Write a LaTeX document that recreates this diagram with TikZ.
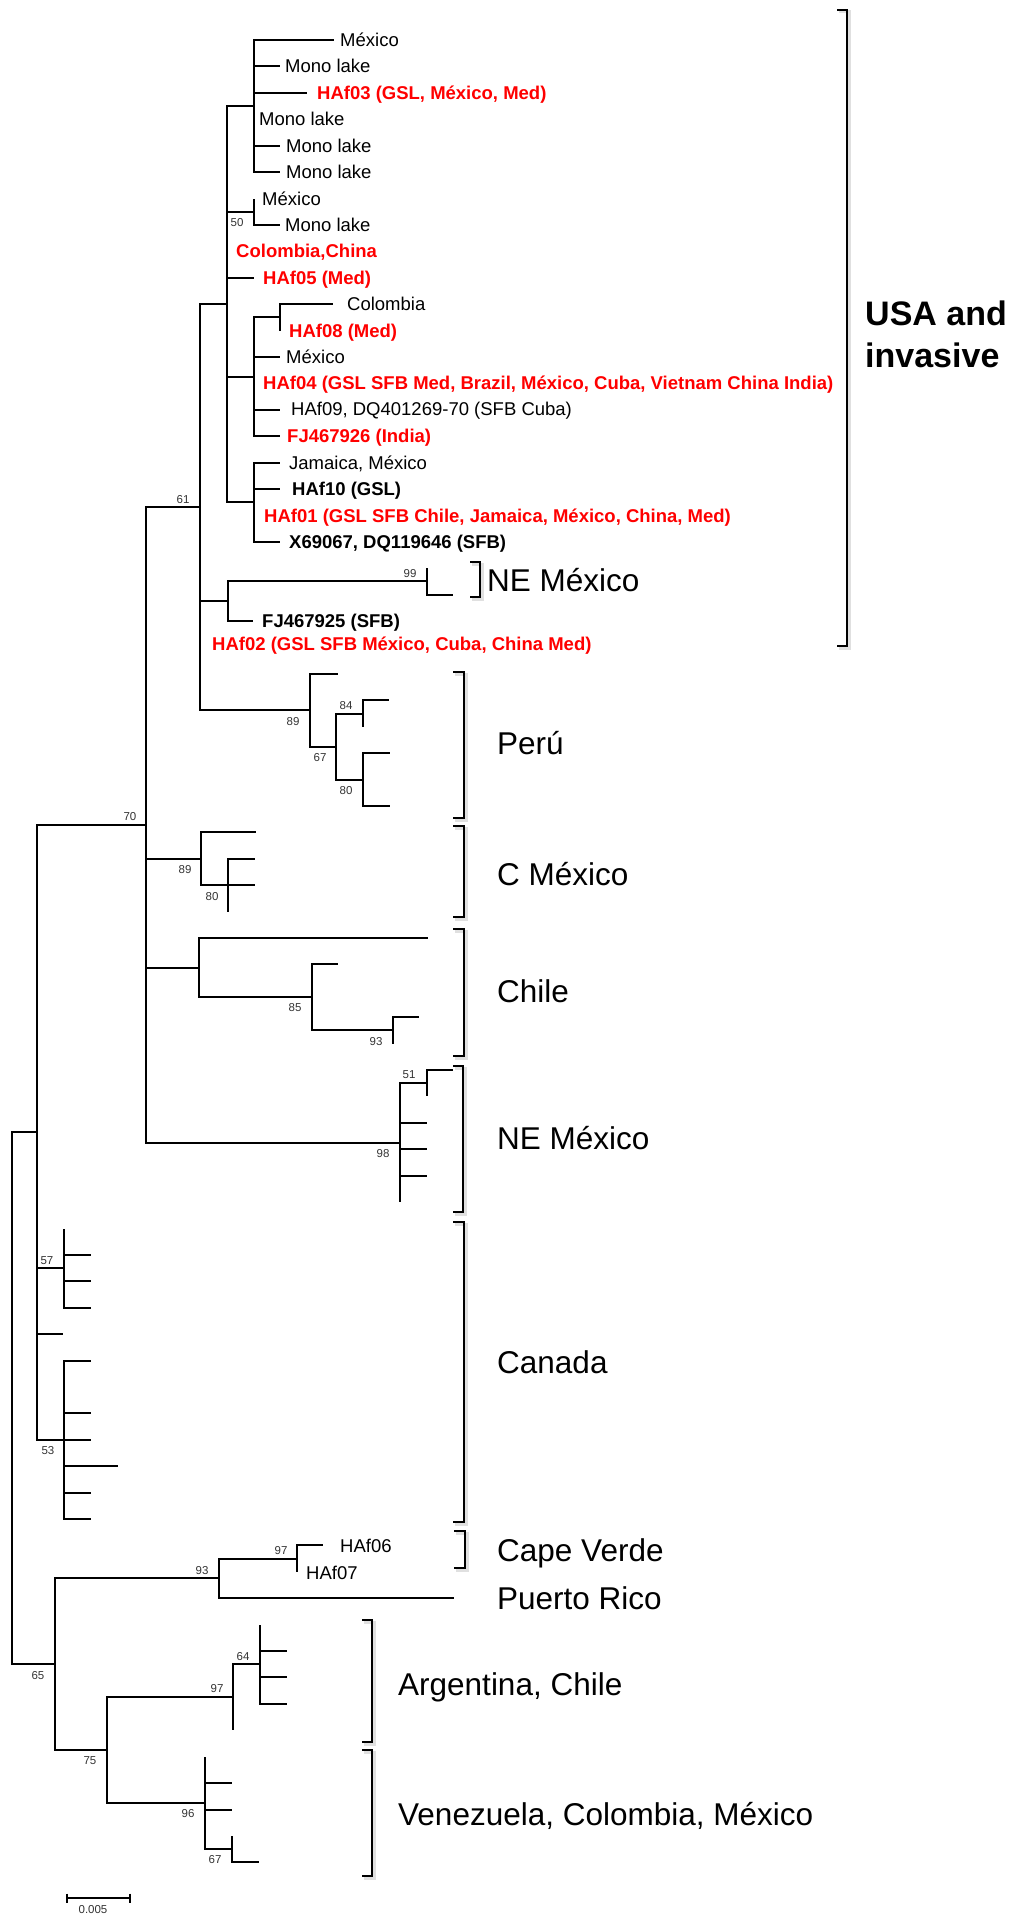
\documentclass[tikz,border=0pt]{standalone}
\usepackage{fontspec}
\setmainfont{Liberation Sans}
\definecolor{hapred}{rgb}{1,0,0}
\begin{document}
\begin{tikzpicture}[x=1pt, y=-1pt,
  branch/.style={line width=2pt},
  bracket/.style={line width=2pt},
  brshadow/.style={line width=3pt, black!12, xshift=2pt, yshift=-2pt},
  tip/.style={anchor=base west, inner sep=0pt, yshift=-6.6pt, font=\fontsize{18.5}{22}\selectfont},
  hap/.style={tip, text=hapred, font=\fontsize{18.5}{22}\selectfont\bfseries},
  seqref/.style={tip, font=\fontsize{18.5}{22}\selectfont\bfseries},
  grp/.style={anchor=base west, inner sep=0pt, yshift=-11.3pt, font=\fontsize{31.5}{38}\selectfont},
  usa/.style={anchor=base west, inner sep=0pt, font=\fontsize{34}{40}\selectfont\bfseries},
  boot/.style={inner sep=0pt, text=black!80, font=\fontsize{11.5}{13}\selectfont}]
\useasboundingbox (0,0) rectangle (1010,1916);
% Internal nodes of the tree (x = distance, y = row)
\coordinate (nA)   at (254,106.0);
\coordinate (n50)  at (254,211.7);
\coordinate (nD2)  at (280,317.3);
\coordinate (nD)   at (254,376.7);
\coordinate (nE)   at (254,502.2);
\coordinate (nB)   at (227,304.1);
\coordinate (n99)  at (427,581.4);
\coordinate (nG)   at (228,601.2);
\coordinate (nP3)  at (363,713.5);
\coordinate (nP4)  at (363,779.5);
\coordinate (nP2)  at (336,746.5);
\coordinate (nP1)  at (310,710.2);
\coordinate (nC)   at (200,507.2);
\coordinate (nCM2) at (228,885.1);
\coordinate (nCM1) at (201,858.7);
\coordinate (nCh3) at (393,1030.4);
\coordinate (nCh2) at (312,997.4);
\coordinate (nCh1) at (199,967.6);
\coordinate (nNE2) at (427,1083.2);
\coordinate (nNE1) at (400,1142.6);
\coordinate (nF)   at (146,824.9);
\coordinate (nCa1) at (64,1268.1);
\coordinate (nCa2) at (64,1439.7);
\coordinate (nR2)  at (37,1132.3);
\coordinate (nCV)  at (297,1558.6);
\coordinate (nPR)  at (219,1578.4);
\coordinate (nAr2) at (260,1664.2);
\coordinate (nAr1) at (233,1697.2);
\coordinate (nVe2) at (232,1849.1);
\coordinate (nVe1) at (205,1802.9);
\coordinate (nS)   at (107,1750.0);
\coordinate (nR3)  at (55,1664.2);
\coordinate (nR1)  at (12,1398.2);
% Root and deep splits
\draw[branch] (nR1) |- (nR2);
\draw[branch] (nR1) |- (nR3);
\draw[branch] (nR2) |- (nF);
\draw[branch] (nR2) |- (nCa1);
\draw[branch] (nR2) |- (63,1334.1);
\draw[branch] (nR2) |- (nCa2);
\draw[branch] (nF) |- (nC);
\draw[branch] (nF) |- (nCM1);
\draw[branch] (nF) |- (nCh1);
\draw[branch] (nF) |- (nNE1);
\draw[branch] (nC) |- (nB);
\draw[branch] (nC) |- (nG);
\draw[branch] (nC) |- (nP1);
% USA and invasive clade
\draw[branch] (nB) |- (nA);
\draw[branch] (nB) |- (n50);
\draw[branch] (nB) |- (254,277.7);
\draw[branch] (nB) |- (nD);
\draw[branch] (nB) |- (nE);
\draw[branch] (nA) |- (334,40);
\draw[branch] (nA) |- (280,66.4);
\draw[branch] (nA) |- (307,92.8);
\draw[branch] (nA) |- (280,145.6);
\draw[branch] (nA) |- (280,172.1);
\draw[branch] (n50) |- (254,198.5);
\draw[branch] (n50) |- (280,224.9);
\draw[branch] (nD) |- (nD2);
\draw[branch] (nD) |- (280,356.9);
\draw[branch] (nD) |- (280,409.7);
\draw[branch] (nD) |- (280,436.2);
\draw[branch] (nD2) |- (333,304.1);
\draw[branch] (nD2) |- (280,330.5);
\draw[branch] (nE) |- (280,462.6);
\draw[branch] (nE) |- (280,489.0);
\draw[branch] (nE) |- (280,541.8);
\draw[branch] (nG) |- (n99);
\draw[branch] (nG) |- (253,621.0);
\draw[branch] (n99) |- (427,568.2);
\draw[branch] (n99) |- (453,594.6);
% Peru
\draw[branch] (nP1) |- (338,673.8);
\draw[branch] (nP1) |- (nP2);
\draw[branch] (nP2) |- (nP3);
\draw[branch] (nP2) |- (nP4);
\draw[branch] (nP3) |- (389,700.3);
\draw[branch] (nP3) |- (363,726.7);
\draw[branch] (nP4) |- (390,753.1);
\draw[branch] (nP4) |- (390,805.9);
% C Mexico
\draw[branch] (nCM1) |- (256,832.3);
\draw[branch] (nCM1) |- (nCM2);
\draw[branch] (nCM2) |- (255,858.7);
\draw[branch] (nCM2) |- (255,885.1);
\draw[branch] (nCM2) |- (228,911.5);
% Chile
\draw[branch] (nCh1) |- (428,937.9);
\draw[branch] (nCh1) |- (nCh2);
\draw[branch] (nCh2) |- (338,964.3);
\draw[branch] (nCh2) |- (nCh3);
\draw[branch] (nCh3) |- (419,1017.2);
\draw[branch] (nCh3) |- (393,1043.6);
% NE Mexico
\draw[branch] (nNE1) |- (nNE2);
\draw[branch] (nNE1) |- (427,1122.8);
\draw[branch] (nNE1) |- (427,1149.2);
\draw[branch] (nNE1) |- (427,1175.6);
\draw[branch] (nNE1) |- (400,1202.0);
\draw[branch] (nNE2) |- (453,1070.0);
\draw[branch] (nNE2) |- (427,1096.4);
% Canada
\draw[branch] (nCa1) |- (64,1228.5);
\draw[branch] (nCa1) |- (91,1254.9);
\draw[branch] (nCa1) |- (91,1281.3);
\draw[branch] (nCa1) |- (91,1307.7);
\draw[branch] (nCa2) |- (91,1360.5);
\draw[branch] (nCa2) |- (91,1413.3);
\draw[branch] (nCa2) |- (91,1439.7);
\draw[branch] (nCa2) |- (118,1466.1);
\draw[branch] (nCa2) |- (91,1492.5);
\draw[branch] (nCa2) |- (91,1519.0);
% Cape Verde, Puerto Rico
\draw[branch] (nR3) |- (nPR);
\draw[branch] (nR3) |- (nS);
\draw[branch] (nPR) |- (nCV);
\draw[branch] (nPR) |- (454,1598.2);
\draw[branch] (nCV) |- (323,1545.4);
\draw[branch] (nCV) |- (297,1571.8);
% Argentina, Venezuela
\draw[branch] (nS) |- (nAr1);
\draw[branch] (nS) |- (nVe1);
\draw[branch] (nAr1) |- (nAr2);
\draw[branch] (nAr1) |- (233,1730.2);
\draw[branch] (nAr2) |- (260,1624.6);
\draw[branch] (nAr2) |- (287,1651.0);
\draw[branch] (nAr2) |- (287,1677.4);
\draw[branch] (nAr2) |- (287,1703.8);
\draw[branch] (nVe1) |- (205,1756.6);
\draw[branch] (nVe1) |- (232,1783.0);
\draw[branch] (nVe1) |- (232,1809.5);
\draw[branch] (nVe1) |- (nVe2);
\draw[branch] (nVe2) |- (232,1835.9);
\draw[branch] (nVe2) |- (259,1862.3);
% Tip labels
\node[tip] (l1) at (340,40.0) {México};
\node[tip] (l2) at (285,66.4) {Mono lake};
\node[hap] (l3) at (317,92.8) {HAf03 (GSL, México, Med)};
\node[tip] (l4) at (259,119.2) {Mono lake};
\node[tip] (l5) at (286,145.6) {Mono lake};
\node[tip] (l6) at (286,172.1) {Mono lake};
\node[tip] (l7) at (262,198.5) {México};
\node[tip] (l8) at (285,224.9) {Mono lake};
\node[hap] (l9) at (236,251.3) {Colombia,China};
\node[hap] (l10) at (263,277.7) {HAf05 (Med)};
\node[tip] (l11) at (347,304.1) {Colombia};
\node[hap] (l12) at (289,330.5) {HAf08 (Med)};
\node[tip] (l13) at (286,356.9) {México};
\node[hap] (l14) at (263,382.5) {HAf04 (GSL SFB Med, Brazil, México, Cuba, Vietnam China India)};
\node[tip] (l15) at (291,409.0) {HAf09, DQ401269-70 (SFB Cuba)};
\node[hap] (l16) at (287,436.2) {FJ467926 (India)};
\node[tip] (l17) at (289,462.6) {Jamaica, México};
\node[seqref] (l18) at (292,489.0) {HAf10 (GSL)};
\node[hap] (l19) at (264,515.4) {HAf01 (GSL SFB Chile, Jamaica, México, China, Med)};
\node[seqref] (l20) at (289,541.8) {X69067, DQ119646 (SFB)};
\node[seqref] (l23) at (262,621.0) {FJ467925 (SFB)};
\node[hap] (l24) at (212,644.0) {HAf02 (GSL SFB México, Cuba, China Med)};
\node[tip] (l58) at (340,1545.4) {HAf06};
\node[tip] (l59) at (306,1573.0) {HAf07};
% Bootstrap values
\node[boot] (b50) at (237,223) {50};
\node[boot] (b61) at (183,500) {61};
\node[boot] (b99) at (410,574) {99};
\node[boot] (bP1) at (293,722) {89};
\node[boot] (bP3) at (346,706) {84};
\node[boot] (bP2) at (320,758) {67};
\node[boot] (bP4) at (346,791) {80};
\node[boot] (b70) at (130,817) {70};
\node[boot] (bCM1) at (185,870) {89};
\node[boot] (bCM2) at (212,897) {80};
\node[boot] (bCh2) at (295,1008) {85};
\node[boot] (bCh3) at (376,1042) {93};
\node[boot] (bNE2) at (409,1075) {51};
\node[boot] (bNE1) at (383,1154) {98};
\node[boot] (bCa1) at (47,1261) {57};
\node[boot] (bCa2) at (48,1451) {53};
\node[boot] (bR3) at (38,1676) {65};
\node[boot] (bPR) at (202,1571) {93};
\node[boot] (bCV) at (281,1551) {97};
\node[boot] (bS) at (90,1761) {75};
\node[boot] (bAr1) at (217,1689) {97};
\node[boot] (bAr2) at (243,1657) {64};
\node[boot] (bVe1) at (188,1814) {96};
\node[boot] (bVe2) at (215,1860) {67};
% Group brackets (shadow first)
\draw[brshadow] (837,10) -- (847,10) -- (847,646) -- (837,646);
\draw[bracket] (837,10) -- (847,10) -- (847,646) -- (837,646);
\draw[brshadow] (470,562) -- (480,562) -- (480,597) -- (470,597);
\draw[bracket] (470,562) -- (480,562) -- (480,597) -- (470,597);
\draw[brshadow] (453,672) -- (464,672) -- (464,818) -- (453,818);
\draw[bracket] (453,672) -- (464,672) -- (464,818) -- (453,818);
\draw[brshadow] (453,826) -- (464,826) -- (464,917) -- (453,917);
\draw[bracket] (453,826) -- (464,826) -- (464,917) -- (453,917);
\draw[brshadow] (453,929) -- (464,929) -- (464,1056) -- (453,1056);
\draw[bracket] (453,929) -- (464,929) -- (464,1056) -- (453,1056);
\draw[brshadow] (453,1066) -- (463,1066) -- (463,1212) -- (453,1212);
\draw[bracket] (453,1066) -- (463,1066) -- (463,1212) -- (453,1212);
\draw[brshadow] (453,1222) -- (464,1222) -- (464,1522) -- (453,1522);
\draw[bracket] (453,1222) -- (464,1222) -- (464,1522) -- (453,1522);
\draw[brshadow] (454,1531) -- (465,1531) -- (465,1568) -- (454,1568);
\draw[bracket] (454,1531) -- (465,1531) -- (465,1568) -- (454,1568);
\draw[brshadow] (362,1620) -- (372,1620) -- (372,1742) -- (362,1742);
\draw[bracket] (362,1620) -- (372,1620) -- (372,1742) -- (362,1742);
\draw[brshadow] (362,1750) -- (372,1750) -- (372,1876) -- (362,1876);
\draw[bracket] (362,1750) -- (372,1750) -- (372,1876) -- (362,1876);
% Group labels
\node[usa] (usa1) at (865,325) {USA and};
\node[usa] (usa2) at (865,367) {invasive};
\node[grp] (gNE1) at (487,580) {NE México};
\node[grp] (gPe) at (497,743) {Perú};
\node[grp] (gCM) at (497,874) {C México};
\node[grp] (gCh) at (497,991) {Chile};
\node[grp] (gNE2) at (497,1138) {NE México};
\node[grp] (gCa) at (497,1362) {Canada};
\node[grp] (gCV) at (497,1550) {Cape Verde};
\node[grp] (gPR) at (497,1598) {Puerto Rico};
\node[grp] (gAr) at (398,1684) {Argentina, Chile};
\node[grp] (gVe) at (398,1814) {Venezuela, Colombia, México};
% Scale bar
\coordinate (sb0) at (67,1898);
\coordinate (sb1) at (130,1898);
\draw[branch] (sb0) -- (sb1);
\draw[branch] ([yshift=4.5pt]sb0) -- ([yshift=-4.5pt]sb0);
\draw[branch] ([yshift=4.5pt]sb1) -- ([yshift=-4.5pt]sb1);
\node[boot] (sblabel) at (93,1910) {0.005};
\end{tikzpicture}
\end{document}
